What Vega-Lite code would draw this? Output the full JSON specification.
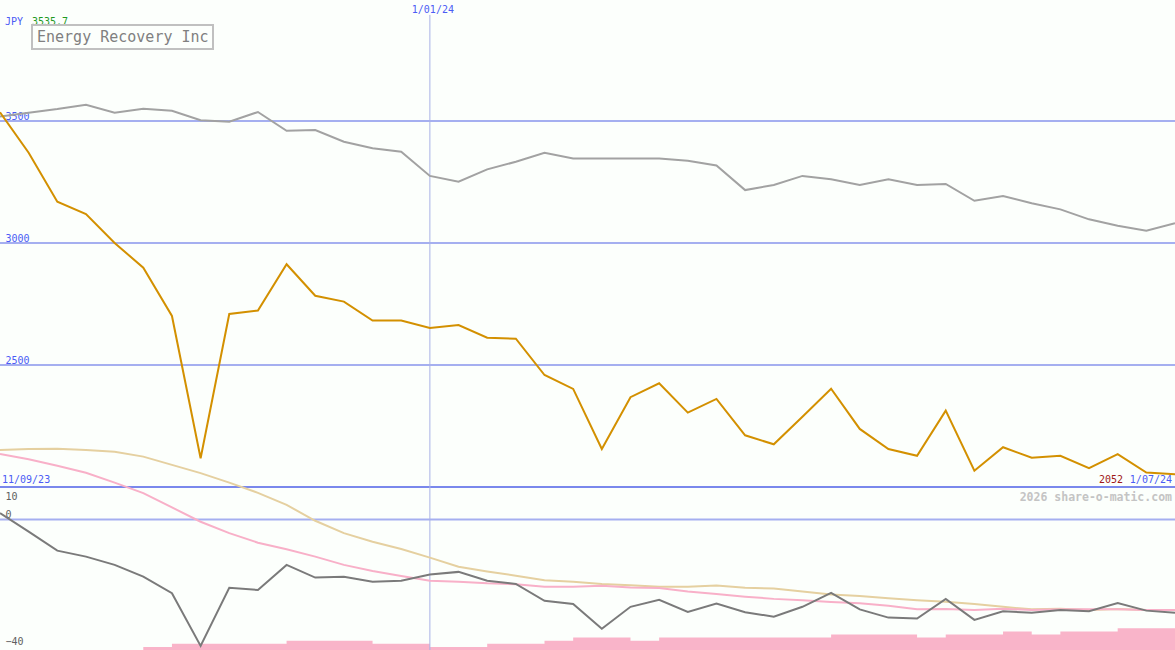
{
  "$schema": "https://vega.github.io/schema/vega-lite/v6.json",
  "width": 1175,
  "height": 650,
  "autosize": {"type": "none"},
  "padding": 0,
  "background": "#fcfffc",
  "config": {
    "view": {"stroke": null},
    "font": "DejaVu Sans Mono",
    "text": {"font": "DejaVu Sans Mono", "fontSize": 10},
    "legend": {"strokeWidth": 2}
  },
  "datasets": {
    "w": [
      {"date": "2023-09-18", "price": 3535.7, "index": 3518, "mom": 2, "ma_long": 21.9, "ma_short": 20.6, "vol": 0},
      {"date": "2023-09-25", "price": 3370, "index": 3534, "mom": -3.8, "ma_long": 22.2, "ma_short": 19, "vol": 0},
      {"date": "2023-10-02", "price": 3169, "index": 3549, "mom": -9.8, "ma_long": 22.3, "ma_short": 16.9, "vol": 0},
      {"date": "2023-10-09", "price": 3119, "index": 3567, "mom": -11.7, "ma_long": 21.9, "ma_short": 14.7, "vol": 0},
      {"date": "2023-10-16", "price": 3000, "index": 3534, "mom": -14.3, "ma_long": 21.3, "ma_short": 11.6, "vol": 0},
      {"date": "2023-10-23", "price": 2899, "index": 3550, "mom": -18, "ma_long": 19.8, "ma_short": 8.3, "vol": 1},
      {"date": "2023-10-30", "price": 2701, "index": 3542, "mom": -23.2, "ma_long": 17.2, "ma_short": 3.8, "vol": 2},
      {"date": "2023-11-06", "price": 2118, "index": 3503, "mom": -39.8, "ma_long": 14.6, "ma_short": -0.7, "vol": 2},
      {"date": "2023-11-13", "price": 2709, "index": 3497, "mom": -21.5, "ma_long": 11.6, "ma_short": -4.3, "vol": 2},
      {"date": "2023-11-20", "price": 2723, "index": 3537, "mom": -22.2, "ma_long": 8.4, "ma_short": -7.3, "vol": 2},
      {"date": "2023-11-27", "price": 2913, "index": 3460, "mom": -14.3, "ma_long": 4.6, "ma_short": -9.4, "vol": 3},
      {"date": "2023-12-04", "price": 2784, "index": 3463, "mom": -18.3, "ma_long": -0.4, "ma_short": -11.7, "vol": 3},
      {"date": "2023-12-11", "price": 2760, "index": 3415, "mom": -18, "ma_long": -4.3, "ma_short": -14.3, "vol": 3},
      {"date": "2023-12-18", "price": 2682, "index": 3388, "mom": -19.6, "ma_long": -7, "ma_short": -16.2, "vol": 2},
      {"date": "2023-12-25", "price": 2682, "index": 3374, "mom": -19.3, "ma_long": -9.3, "ma_short": -17.8, "vol": 2},
      {"date": "2024-01-01", "price": 2652, "index": 3275, "mom": -17.3, "ma_long": -12, "ma_short": -19.3, "vol": 1},
      {"date": "2024-01-08", "price": 2664, "index": 3251, "mom": -16.5, "ma_long": -14.9, "ma_short": -19.6, "vol": 1},
      {"date": "2024-01-15", "price": 2612, "index": 3302, "mom": -19.3, "ma_long": -16.4, "ma_short": -20.1, "vol": 2},
      {"date": "2024-01-22", "price": 2608, "index": 3333, "mom": -20.3, "ma_long": -17.7, "ma_short": -20.4, "vol": 2},
      {"date": "2024-01-29", "price": 2459, "index": 3370, "mom": -25.6, "ma_long": -19.1, "ma_short": -21.2, "vol": 3},
      {"date": "2024-02-05", "price": 2402, "index": 3346, "mom": -26.6, "ma_long": -19.6, "ma_short": -21.2, "vol": 4},
      {"date": "2024-02-12", "price": 2156, "index": 3346, "mom": -34.4, "ma_long": -20.3, "ma_short": -20.9, "vol": 4},
      {"date": "2024-02-19", "price": 2368, "index": 3346, "mom": -27.5, "ma_long": -20.7, "ma_short": -21.4, "vol": 3},
      {"date": "2024-02-26", "price": 2425, "index": 3346, "mom": -25.3, "ma_long": -21.2, "ma_short": -21.6, "vol": 4},
      {"date": "2024-03-04", "price": 2305, "index": 3337, "mom": -29.1, "ma_long": -21.2, "ma_short": -22.7, "vol": 4},
      {"date": "2024-03-11", "price": 2361, "index": 3318, "mom": -26.5, "ma_long": -20.8, "ma_short": -23.5, "vol": 4},
      {"date": "2024-03-18", "price": 2212, "index": 3217, "mom": -29.2, "ma_long": -21.5, "ma_short": -24.3, "vol": 4},
      {"date": "2024-03-25", "price": 2175, "index": 3238, "mom": -30.6, "ma_long": -21.7, "ma_short": -25, "vol": 4},
      {"date": "2024-04-01", "price": 2288, "index": 3275, "mom": -27.5, "ma_long": -22.7, "ma_short": -25.4, "vol": 4},
      {"date": "2024-04-08", "price": 2403, "index": 3261, "mom": -23.1, "ma_long": -23.6, "ma_short": -26, "vol": 5},
      {"date": "2024-04-15", "price": 2238, "index": 3238, "mom": -28.3, "ma_long": -24.1, "ma_short": -26.4, "vol": 5},
      {"date": "2024-04-22", "price": 2156, "index": 3261, "mom": -30.9, "ma_long": -24.8, "ma_short": -27.2, "vol": 5},
      {"date": "2024-04-29", "price": 2128, "index": 3238, "mom": -31.2, "ma_long": -25.4, "ma_short": -28.3, "vol": 4},
      {"date": "2024-05-06", "price": 2313, "index": 3242, "mom": -25, "ma_long": -25.9, "ma_short": -28.2, "vol": 5},
      {"date": "2024-05-13", "price": 2067, "index": 3173, "mom": -31.6, "ma_long": -26.6, "ma_short": -28.5, "vol": 5},
      {"date": "2024-05-20", "price": 2163, "index": 3193, "mom": -28.9, "ma_long": -27.5, "ma_short": -28.1, "vol": 6},
      {"date": "2024-05-27", "price": 2120, "index": 3163, "mom": -29.4, "ma_long": -28.3, "ma_short": -28.5, "vol": 5},
      {"date": "2024-06-03", "price": 2128, "index": 3138, "mom": -28.5, "ma_long": -28.1, "ma_short": -28.3, "vol": 6},
      {"date": "2024-06-10", "price": 2077, "index": 3097, "mom": -28.9, "ma_long": -28.5, "ma_short": -28.3, "vol": 6},
      {"date": "2024-06-17", "price": 2135, "index": 3071, "mom": -26.3, "ma_long": -28.2, "ma_short": -28.3, "vol": 7},
      {"date": "2024-06-24", "price": 2059, "index": 3050, "mom": -28.7, "ma_long": -28.5, "ma_short": -28.5, "vol": 7},
      {"date": "2024-07-01", "price": 2052, "index": 3081, "mom": -29.4, "ma_long": -28.5, "ma_short": -28.5, "vol": 7}
    ]
  },
  "layer": [
    {
      "data": {"name": "w"},
      "mark": {"type": "area", "interpolate": "step-after", "color": "#f9b4c9"},
      "encoding": {
        "x": {"field": "date", "type": "temporal", "axis": null, "scale": {"nice": false}},
        "y": {"field": "vol", "type": "quantitative", "scale": {"domain": [0, 210], "nice": false}, "axis": null}
      }
    },
    {
      "data": {"values": [{"p": 2500}, {"p": 3000}, {"p": 3500}]},
      "mark": {"type": "rule", "color": "#a5aff0", "strokeWidth": 2},
      "encoding": {
        "y": {"field": "p", "type": "quantitative", "scale": {"domain": [1332, 3996], "nice": false, "zero": false},
          "axis": {"orient": "left", "values": [2500, 3000, 3500], "format": "d", "domain": false, "ticks": false, "tickSize": 0, "grid": false,
            "minExtent": 0, "maxExtent": 0, "offset": 0,
            "labelAlign": "left", "labelBaseline": "alphabetic", "labelPadding": -5, "labelOffset": -2,
            "labelColor": "#4b5cf5", "labelFont": "DejaVu Sans Mono", "labelFontSize": 10, "title": null}}
      }
    },
    {
      "data": {"values": [{"p": 2000}]},
      "mark": {"type": "rule", "color": "#7a88ec", "strokeWidth": 2},
      "encoding": {
        "y": {"field": "p", "type": "quantitative", "scale": {"domain": [1332, 3996], "nice": false, "zero": false}, "axis": null}
      }
    },
    {
      "data": {"values": [{"m": 0}]},
      "mark": {"type": "rule", "color": "#a5aff0", "strokeWidth": 2},
      "encoding": {
        "y": {"field": "m", "type": "quantitative", "scale": {"domain": [-41.1, 163.6], "nice": false, "zero": false},
          "axis": {"orient": "left", "values": [10, 0, -40], "format": "d", "domain": false, "ticks": false, "tickSize": 0, "grid": false,
            "minExtent": 0, "maxExtent": 0, "offset": 0,
            "labelAlign": "left",
            "labelBaseline": {"condition": {"test": "datum.value == 10", "value": "top"}, "value": "alphabetic"},
            "labelOffset": {"condition": {"test": "datum.value == 10", "value": 4}, "value": -2},
            "labelPadding": -5,
            "labelColor": "#606060", "labelFont": "DejaVu Sans Mono", "labelFontSize": 10, "title": null}}
      }
    },
    {
      "data": {"values": [{"date": "2024-01-01", "p1": 3935, "p2": 1332}]},
      "mark": {"type": "rule", "color": "#a8b1e6", "strokeWidth": 1},
      "encoding": {
        "x": {"field": "date", "type": "temporal", "axis": null, "scale": {"nice": false}},
        "y": {"field": "p1", "type": "quantitative", "scale": {"domain": [1332, 3996], "nice": false, "zero": false}, "axis": null},
        "y2": {"field": "p2"}
      }
    },
    {
      "data": {"name": "w"},
      "mark": {"type": "line", "color": "#e5d0a0", "strokeWidth": 2},
      "encoding": {
        "x": {"field": "date", "type": "temporal", "axis": null, "scale": {"nice": false}},
        "y": {"field": "ma_long", "type": "quantitative", "scale": {"domain": [-41.1, 163.6], "nice": false, "zero": false}, "axis": null}
      }
    },
    {
      "data": {"name": "w"},
      "mark": {"type": "line", "color": "#f8b0c8", "strokeWidth": 2},
      "encoding": {
        "x": {"field": "date", "type": "temporal", "axis": null, "scale": {"nice": false}},
        "y": {"field": "ma_short", "type": "quantitative", "scale": {"domain": [-41.1, 163.6], "nice": false, "zero": false}, "axis": null}
      }
    },
    {
      "data": {"name": "w"},
      "mark": {"type": "line", "color": "#7a7a7a", "strokeWidth": 2},
      "encoding": {
        "x": {"field": "date", "type": "temporal", "axis": null, "scale": {"nice": false}},
        "y": {"field": "mom", "type": "quantitative", "scale": {"domain": [-41.1, 163.6], "nice": false, "zero": false}, "axis": null}
      }
    },
    {
      "data": {"name": "w"},
      "mark": {"type": "line", "color": "#a2a2a2", "strokeWidth": 2},
      "encoding": {
        "x": {"field": "date", "type": "temporal", "axis": null, "scale": {"nice": false}},
        "y": {"field": "index", "type": "quantitative", "scale": {"domain": [1332, 3996], "nice": false, "zero": false}, "axis": null}
      }
    },
    {
      "data": {"name": "w"},
      "mark": {"type": "line", "strokeWidth": 2},
      "encoding": {
        "x": {"field": "date", "type": "temporal", "axis": null, "scale": {"nice": false}},
        "y": {"field": "price", "type": "quantitative", "scale": {"domain": [1332, 3996], "nice": false, "zero": false}, "axis": null},
        "color": {"datum": "Energy Recovery Inc", "type": "nominal", "scale": {"range": ["#d39000"]},
          "legend": {"orient": "none", "legendX": 32, "legendY": 25, "title": null, "strokeColor": "#c0c0c0", "padding": 4,
            "fillColor": "#fcfffc", "symbolSize": 0, "symbolStrokeWidth": 0, "symbolOpacity": 0, "labelOffset": -14,
            "labelLimit": 400,
            "labelFont": "DejaVu Sans Mono", "labelFontSize": 15, "labelColor": "#808080"}}
      }
    },
    {
      "data": {"values": [{"date": "2023-09-18", "p": 3893, "t": "JPY"}]},
      "mark": {"type": "text", "align": "left", "baseline": "alphabetic", "dx": 5, "color": "#4b5cf5", "fontSize": 10},
      "encoding": {
        "x": {"field": "date", "type": "temporal", "axis": null, "scale": {"nice": false}},
        "y": {"field": "p", "type": "quantitative", "scale": {"domain": [1332, 3996], "nice": false, "zero": false}, "axis": null},
        "text": {"field": "t"}
      }
    },
    {
      "data": {"values": [{"date": "2023-09-18", "p": 3893, "t": "3535.7"}]},
      "mark": {"type": "text", "align": "left", "baseline": "alphabetic", "dx": 32, "color": "#1f9a1f", "fontSize": 10},
      "encoding": {
        "x": {"field": "date", "type": "temporal", "axis": null, "scale": {"nice": false}},
        "y": {"field": "p", "type": "quantitative", "scale": {"domain": [1332, 3996], "nice": false, "zero": false}, "axis": null},
        "text": {"field": "t"}
      }
    },
    {
      "data": {"values": [{"date": "2024-01-01", "p": 3943, "t": "1/01/24"}]},
      "mark": {"type": "text", "align": "center", "baseline": "alphabetic", "dx": 3, "color": "#4b5cf5", "fontSize": 10},
      "encoding": {
        "x": {"field": "date", "type": "temporal", "axis": null, "scale": {"nice": false}},
        "y": {"field": "p", "type": "quantitative", "scale": {"domain": [1332, 3996], "nice": false, "zero": false}, "axis": null},
        "text": {"field": "t"}
      }
    },
    {
      "data": {"values": [{"date": "2023-09-18", "p": 2000, "t": "11/09/23"}]},
      "mark": {"type": "text", "align": "left", "baseline": "alphabetic", "dx": 2, "dy": -4, "color": "#4b5cf5", "fontSize": 10},
      "encoding": {
        "x": {"field": "date", "type": "temporal", "axis": null, "scale": {"nice": false}},
        "y": {"field": "p", "type": "quantitative", "scale": {"domain": [1332, 3996], "nice": false, "zero": false}, "axis": null},
        "text": {"field": "t"}
      }
    },
    {
      "data": {"values": [{"date": "2024-07-01", "p": 2000, "t": "1/07/24"}]},
      "mark": {"type": "text", "align": "right", "baseline": "alphabetic", "dx": -3, "dy": -4, "color": "#4b5cf5", "fontSize": 10},
      "encoding": {
        "x": {"field": "date", "type": "temporal", "axis": null, "scale": {"nice": false}},
        "y": {"field": "p", "type": "quantitative", "scale": {"domain": [1332, 3996], "nice": false, "zero": false}, "axis": null},
        "text": {"field": "t"}
      }
    },
    {
      "data": {"values": [{"date": "2024-07-01", "p": 2000, "t": "2052"}]},
      "mark": {"type": "text", "align": "right", "baseline": "alphabetic", "dx": -52, "dy": -4, "color": "#a01818", "fontSize": 10},
      "encoding": {
        "x": {"field": "date", "type": "temporal", "axis": null, "scale": {"nice": false}},
        "y": {"field": "p", "type": "quantitative", "scale": {"domain": [1332, 3996], "nice": false, "zero": false}, "axis": null},
        "text": {"field": "t"}
      }
    },
    {
      "data": {"values": [{"date": "2024-07-01", "m": 10, "t": "2026 share-o-matic.com"}]},
      "mark": {"type": "text", "align": "right", "baseline": "top", "dx": -3, "dy": 4, "color": "#c4c4c4", "fontSize": 11.5, "fontWeight": "bold"},
      "encoding": {
        "x": {"field": "date", "type": "temporal", "axis": null, "scale": {"nice": false}},
        "y": {"field": "m", "type": "quantitative", "scale": {"domain": [-41.1, 163.6], "nice": false, "zero": false}, "axis": null},
        "text": {"field": "t"}
      }
    }
  ],
  "resolve": {"scale": {"y": "independent"}, "axis": {"y": "independent"}}
}
